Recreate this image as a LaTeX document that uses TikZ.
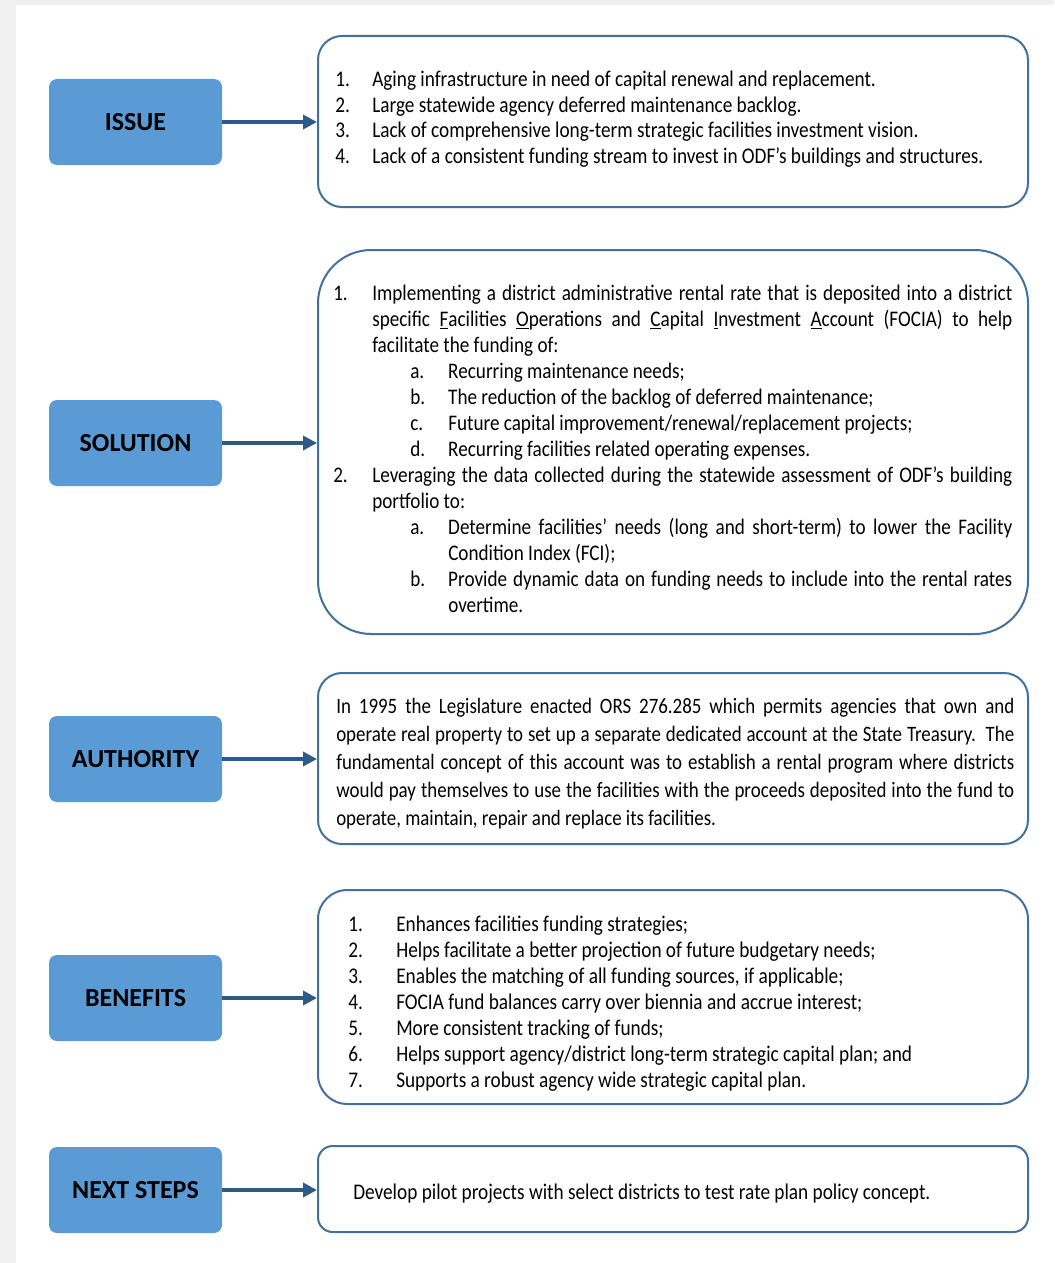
\documentclass[tikz,border=0pt]{standalone}
\usepackage{fontspec}
\setmainfont{Carlito}[FakeStretch=0.86]
\newfontfamily\tagfont{Carlito}
\usepackage{xcolor}
\usetikzlibrary{positioning, arrows.meta}

\definecolor{tagblue}{HTML}{5B9BD5}
\definecolor{frameblue}{HTML}{41719C}
\definecolor{linkblue}{HTML}{2E5A87}
\definecolor{pagegray}{HTML}{F0F0F0}

% one list entry: label offset, text offset, label
\newcommand{\listentry}[3]{\par\noindent\hangindent=#2\hangafter=1%
  \makebox[#2][l]{\strut\hspace*{#1}#3}\ignorespaces}

\tikzset{
  tag/.style={fill=tagblue, rounded corners=6pt, inner sep=0pt,
    minimum width=129.75pt, minimum height=64.5pt,
    font=\tagfont\bfseries\fontsize{19.5}{22}\selectfont},
  frame/.style={draw=frameblue, line width=1.5pt, inner sep=0pt,
    minimum width=532.5pt},
  link/.style={-{Triangle[length=10.5pt,width=10.5pt]}, draw=linkblue, line width=3.5pt},
  body/.style={anchor=north west, inner sep=0pt, align=justify,
    font=\fontsize{16.7}{19.5}\selectfont}
}

\begin{document}
\begin{tikzpicture}[x=0.75pt, y=-0.75pt]
    % Page background
    \useasboundingbox (0,0) rectangle (1054,1263);
    \fill[pagegray] (0,0) rectangle (1054,1263);
    \fill[white] (16,5) rectangle (1054,1263);

    % Left labels
    \node[tag] (issue) at (135.5,122) {ISSUE};
    \node[tag] (solution) at (135.5,443) {SOLUTION};
    \node[tag] (authority) at (135.5,759) {AUTHORITY};
    \node[tag] (benefits) at (135.5,998) {BENEFITS};
    \node[tag] (nextsteps) at (135.5,1190) {NEXT STEPS};

    % Right frames
    \node[frame, rounded corners=18pt, minimum height=128.25pt] (issuebox) at (673,121.5) {};
    \node[frame, rounded corners=40pt, minimum height=288pt] (solutionbox) at (673,442) {};
    \node[frame, rounded corners=18pt, minimum height=128.25pt] (authoritybox) at (673,758.5) {};
    \node[frame, rounded corners=22pt, minimum height=160.5pt] (benefitsbox) at (673,997) {};
    \node[frame, rounded corners=11pt, minimum height=64.5pt] (nextstepsbox) at (673,1189) {};

    % Arrows
    \draw[link] (issue.east) -- (issue.east -| issuebox.west);
    \draw[link] (solution.east) -- (solution.east -| solutionbox.west);
    \draw[link] (authority.east) -- (authority.east -| authoritybox.west);
    \draw[link] (benefits.east) -- (benefits.east -| benefitsbox.west);
    \draw[link] (nextsteps.east) -- (nextsteps.east -| nextstepsbox.west);

    % Texts
    \node[body, text width=500pt, font=\fontsize{16.8}{19.1}\selectfont] (issuetext) at (335,61) {%
      \listentry{0pt}{27.75pt}{1.}Aging infrastructure in need of capital renewal and replacement.
      \listentry{0pt}{27.75pt}{2.}Large statewide agency deferred maintenance backlog.
      \listentry{0pt}{27.75pt}{3.}Lack of comprehensive long-term strategic facilities investment vision.
      \listentry{0pt}{27.75pt}{4.}Lack of a consistent funding stream to invest in ODF’s buildings and structures.\par};

    \node[body, text width=509.25pt] (solutiontext) at (333,274) {%
      \listentry{0pt}{29.25pt}{1.}Implementing a district administrative rental rate that is deposited into a district\linebreak
      specific \underline{F}acilities \underline{O}perations and \underline{C}apital \underline{I}nvestment \underline{A}ccount (FOCIA) to help\linebreak
      facilitate the funding of:
      \listentry{57.75pt}{86.25pt}{a.}Recurring maintenance needs;
      \listentry{57.75pt}{86.25pt}{b.}The reduction of the backlog of deferred maintenance;
      \listentry{57.75pt}{86.25pt}{c.}Future capital improvement/renewal/replacement projects;
      \listentry{57.75pt}{86.25pt}{d.}Recurring facilities related operating expenses.
      \listentry{0pt}{29.25pt}{2.}Leveraging the data collected during the statewide assessment of ODF’s building\linebreak
      portfolio to:
      \listentry{57.75pt}{86.25pt}{a.}Determine facilities’ needs (long and short-term) to lower the Facility\linebreak
      Condition Index (FCI);
      \listentry{57.75pt}{86.25pt}{b.}Provide dynamic data on funding needs to include into the rental rates\linebreak
      overtime.\par};

    \node[body, text width=508.5pt, font=\fontsize{16.5}{21}\selectfont] (authoritytext) at (336,694) {%
      \strut In 1995 the Legislature enacted ORS 276.285 which permits agencies that own and\linebreak
      operate real property to set up a separate dedicated account at the State Treasury.\ \ The\linebreak
      fundamental concept of this account was to establish a rental program where districts\linebreak
      would pay themselves to use the facilities with the proceeds deposited into the fund to\linebreak
      operate, maintain, repair and replace its facilities.\par};

    \node[body, text width=500pt, font=\fontsize{16.8}{19.5}\selectfont] (benefitstext) at (348,905) {%
      \listentry{0pt}{36pt}{1.}Enhances facilities funding strategies;
      \listentry{0pt}{36pt}{2.}Helps facilitate a better projection of future budgetary needs;
      \listentry{0pt}{36pt}{3.}Enables the matching of all funding sources, if applicable;
      \listentry{0pt}{36pt}{4.}FOCIA fund balances carry over biennia and accrue interest;
      \listentry{0pt}{36pt}{5.}More consistent tracking of funds;
      \listentry{0pt}{36pt}{6.}Helps support agency/district long-term strategic capital plan; and
      \listentry{0pt}{36pt}{7.}Supports a robust agency wide strategic capital plan.\par};

    \node[body, anchor=base west, font=\fontsize{16.8}{20}\selectfont] (nextstepstext) at (353,1199)
      {Develop pilot projects with select districts to test rate plan policy concept.};
\end{tikzpicture}
\end{document}
